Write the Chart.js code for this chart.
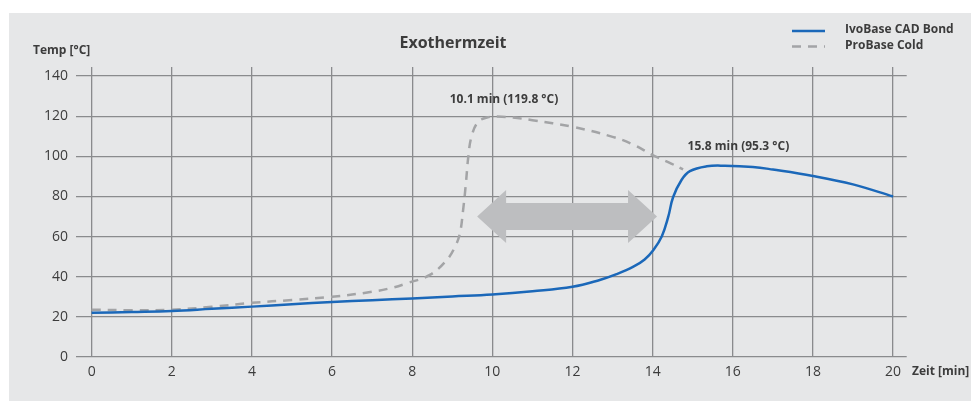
<!DOCTYPE html>
<html><head><meta charset="utf-8">
<script src="https://cdn.jsdelivr.net/npm/chart.js@4.4.1/dist/chart.umd.min.js"></script>
<style>html,body{margin:0;padding:0;background:#fff;}#wrap{width:971px;height:401px;position:relative;}</style>
</head><body><div id="wrap"><canvas id="c" width="971" height="401"></canvas></div>
<script>
// ---- data ----
const seriesNames = ['IvoBase CAD Bond', 'ProBase Cold'];
const timeIvo = [0,1,2,3,4,5,6,7,8,9,10,11,12,12.68,13.1,13.52,13.8,14.02,14.23,14.39,14.51,14.72,14.93,15.35,15.8,16.5,17,18,19,20];
const tempIvo = [22,22.4,22.9,24,25.1,26.3,27.4,28.3,29.2,30.2,31.2,32.8,35,38.4,41.3,45,48.6,53.3,60.2,69.9,79.6,88.2,92.6,95.0,95.3,94.7,93.4,90.2,86,80];
const timePro = [0,1,2,3,4,5,6,7,7.5,7.86,8.44,8.86,9.07,9.19,9.27,9.34,9.40,9.48,9.65,9.94,10.1,10.5,11,12,13,13.5,14,14.4,14.76];
const tempPro = [23.6,23.3,23.6,25,27,28.4,30,32.5,34.5,36.7,40.9,48.3,55,61.6,73.2,86.5,99.8,109.8,117.2,119.7,119.8,119.3,118,114.7,109.7,106,100.6,97,93.5];
const xTicks = [0,2,4,6,8,10,12,14,16,18,20];
const yTicks = [0,20,40,60,80,100,120,140];
const peakLabels = ['10.1 min (119.8 °C)', '15.8 min (95.3 °C)'];
const peakLabelAt = [[10.29,128.5],[16.14,104.6]];
const arrowSpan = [9.62, 14.11, 70];

const blue = '#1b68b9', grey = '#a3a4a6', gridC = '#8a8b8d', textC = '#3c3c3c';
const FONT = '"Open Sans", "Liberation Sans", sans-serif';

const decor = {
  id: 'decor',
  beforeDraw(chart) {
    const ctx = chart.ctx;
    ctx.save();
    ctx.fillStyle = '#fff'; ctx.fillRect(0,0,chart.width,chart.height);
    ctx.fillStyle = '#e6e7e8'; ctx.fillRect(9,13,chart.width-9,chart.height-13);
    ctx.restore();
  },
  beforeDatasetsDraw(chart) {
    const ctx = chart.ctx, xs = chart.scales.x, ys = chart.scales.y;
    const x0 = xs.getPixelForValue(arrowSpan[0]), x1 = xs.getPixelForValue(arrowSpan[1]);
    const yc = ys.getPixelForValue(arrowSpan[2]);
    const hh = 26.5, sh = 13.5, hl = 29;
    ctx.save();
    ctx.fillStyle = '#bdbec0';
    ctx.beginPath();
    ctx.moveTo(x0, yc);
    ctx.lineTo(x0+hl, yc-hh);
    ctx.lineTo(x0+hl, yc-sh);
    ctx.lineTo(x1-hl, yc-sh);
    ctx.lineTo(x1-hl, yc-hh);
    ctx.lineTo(x1, yc);
    ctx.lineTo(x1-hl, yc+hh);
    ctx.lineTo(x1-hl, yc+sh);
    ctx.lineTo(x0+hl, yc+sh);
    ctx.lineTo(x0+hl, yc+hh);
    ctx.closePath();
    ctx.fill();
    ctx.restore();
  },
  afterDraw(chart) {
    const ctx = chart.ctx, xs = chart.scales.x, ys = chart.scales.y;
    ctx.save();
    ctx.fillStyle = textC;
    ctx.textBaseline = 'middle';
    ctx.font = 'bold 16px ' + FONT;
    ctx.textAlign = 'center';
    ctx.fillText('Exothermzeit', 453, 43);
    ctx.font = 'bold 12px ' + FONT;
    ctx.textAlign = 'left';
    ctx.fillText('Temp [°C]', 33, 51);
    ctx.fillText('Zeit [min]', 912, 372);
    ctx.textAlign = 'center';
    peakLabels.forEach((t,i) => {
      ctx.fillText(t, xs.getPixelForValue(peakLabelAt[i][0]), ys.getPixelForValue(peakLabelAt[i][1]));
    });
    const ds = chart.data.datasets;
    ds.forEach((d,i) => {
      const y = 31 + i*15.5;
      ctx.strokeStyle = d.borderColor;
      ctx.lineWidth = 2.5;
      ctx.setLineDash(d.borderDash || []);
      ctx.beginPath(); ctx.moveTo(792, y); ctx.lineTo(825, y); ctx.stroke();
      ctx.setLineDash([]);
      ctx.textAlign = 'left';
      ctx.fillText(d.label, 845, y-1);
    });
    ctx.restore();
  }
};

new Chart(document.getElementById('c'), {
  type: 'line',
  data: {
    datasets: [
      { label: seriesNames[0], data: timeIvo.map((t,i)=>({x:t,y:tempIvo[i]})),
        borderColor: blue, borderWidth: 2.5, pointRadius: 0, fill: false, tension: 0.4 },
      { label: seriesNames[1], data: timePro.map((t,i)=>({x:t,y:tempPro[i]})),
        borderColor: grey, borderWidth: 2.5, borderDash: [9,7], pointRadius: 0, fill: false, tension: 0.4 }
    ]
  },
  options: {
    responsive: false, animation: false,
    layout: { padding: { top: 67, right: 64.3, left: 0, bottom: 0 } },
    plugins: { legend: { display: false }, title: { display: false }, tooltip: { enabled: false } },
    scales: {
      x: { type: 'linear', min: -0.39, max: 20.34,
        afterBuildTicks: s => { s.ticks = xTicks.map(v=>({value:v})); },
        afterFit: s => { s.height = 44; },
        grid: { color: gridC, lineWidth: 1.3, drawTicks: false },
        border: { display: false },
        ticks: { padding: 7, color: textC, font: { family: FONT, size: 14 }, maxRotation: 0 } },
      y: { type: 'linear', min: 0, max: 144.5,
        afterBuildTicks: s => { s.ticks = yTicks.map(v=>({value:v})); },
        afterFit: s => { s.width = 76; },
        grid: { color: gridC, lineWidth: 1.3, drawTicks: false },
        border: { display: false },
        ticks: { padding: 8, color: textC, font: { family: FONT, size: 14 } } }
    }
  },
  plugins: [decor]
});
</script></body></html>
